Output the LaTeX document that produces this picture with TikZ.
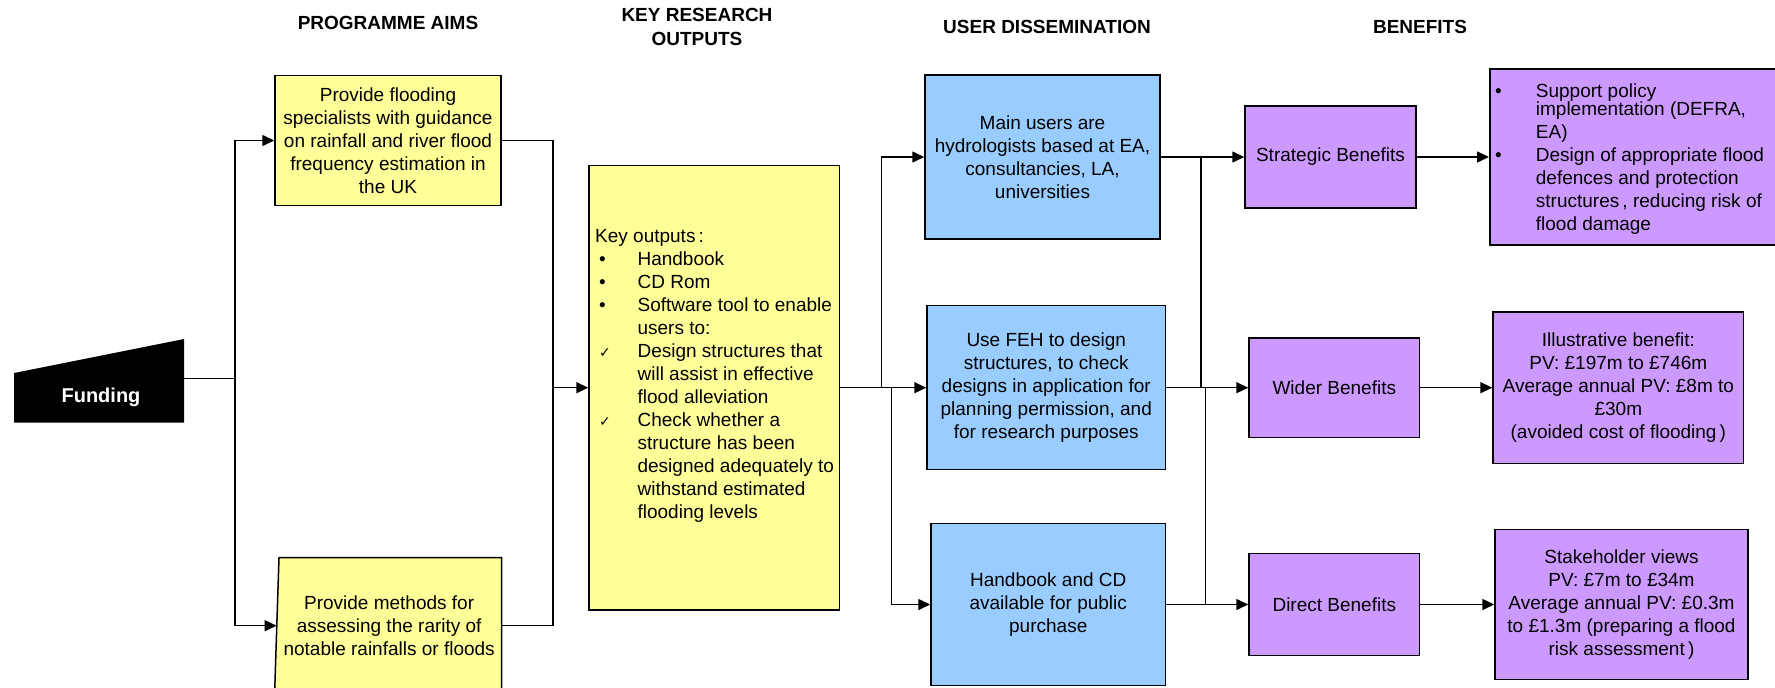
\documentclass[tikz,border=0pt]{standalone}
\usepackage{fontspec}
\setmainfont{Liberation Sans}
\newfontfamily\dejavu{DejaVu Sans}
\usetikzlibrary{arrows.meta}
\definecolor{ylw}{HTML}{FFFF99}
\definecolor{blu}{HTML}{99CCFF}
\definecolor{prp}{HTML}{CC99FF}
\newcommand\kitem[2]{\makebox[42.4pt][l]{\hspace{4pt}#1}#2}
\newcommand\kcont[1]{\hspace{42.4pt}#1}
\newcommand\ckm{{\dejavu\fontsize{14}{14}\selectfont ✓}}
\begin{document}
\begin{tikzpicture}[x=1pt,y=-1pt,
  box/.style={draw=black, line width=1.5pt, inner sep=0pt, align=center, font=\fontsize{19}{23}\selectfont},
  txt/.style={inner sep=0pt, font=\fontsize{19}{23}\selectfont},
  hdr/.style={font=\fontsize{19}{24}\selectfont\bfseries, align=center, inner sep=0pt},
  conn/.style={line width=1.5pt},
  arr/.style={conn, -{Triangle[length=12pt,width=11pt]}},
]
\useasboundingbox (0,0) rectangle (1775,688);

% headers
\node[hdr] (h1) at (388,22.8) {PROGRAMME AIMS};
\node[hdr] (h2) at (697,27) {KEY RESEARCH\\OUTPUTS};
\node[hdr] (h3) at (1047,27) {USER DISSEMINATION};
\node[hdr] (h4) at (1420,27) {BENEFITS};

% funding
\fill[black] (14,373) -- (184,339) -- (184,422.5) -- (14,422.5) -- cycle;
\node[inner sep=0pt, text=white, font=\fontsize{20}{24}\selectfont\bfseries] (fund) at (101,397) {Funding};
\coordinate (fundR) at (184,378.7);
\coordinate (j1) at (235,378.7);

% programme aims
\node[box, fill=ylw, minimum width=226pt, minimum height=130pt] (aim1) at (388,140.5)
  {Provide flooding\\specialists with guidance\\on rainfall and river flood\\frequency estimation in\\the UK};
\path[draw=black, fill=ylw, line width=1.5pt] (279,557.7) -- (501.5,557.7) -- (501.5,700) -- (274.4,700) -- cycle;
\node[txt, align=center, minimum width=224.7pt, minimum height=136pt] (aim2) at (389.15,625.7)
  {Provide methods for\\assessing the rarity of\\notable rainfalls or floods};
\coordinate (j2) at (553,387.7);

% key outputs
\node[box, fill=ylw, minimum width=250.5pt, minimum height=444.6pt] (key) at (714.25,387.7) {};
\node[txt, align=left, anchor=west] (keytxt) at (595,376)
  {Key outputs\,:\\
   \kitem{•}{Handbook}\\
   \kitem{•}{CD Rom}\\
   \kitem{•}{Software tool to enable}\\
   \kcont{users to:}\\
   \kitem{\ckm}{Design structures that}\\
   \kcont{will assist in effective}\\
   \kcont{flood alleviation}\\
   \kitem{\ckm}{Check whether a}\\
   \kcont{structure has been}\\
   \kcont{designed adequately to}\\
   \kcont{withstand estimated}\\
   \kcont{flooding levels}};
\coordinate (j3) at (881.5,387.7);
\coordinate (j4) at (891.5,387.7);

% user dissemination
\node[box, fill=blu, minimum width=235pt, minimum height=164pt] (u1) at (1042.5,157)
  {Main users are\\hydrologists based at EA,\\consultancies, LA,\\universities};
\node[box, fill=blu, minimum width=238.5pt, minimum height=164pt] (u2) at (1046.25,387.7)
  {Use FEH to design\\structures, to check\\designs in application for\\planning permission, and\\for research purposes};
\node[box, fill=blu, minimum width=234.5pt, minimum height=162pt] (u3) at (1048.25,604.5)
  {Handbook and CD\\available for public\\purchase};
\coordinate (j5) at (1201,157);
\coordinate (j6) at (1201,387.7);
\coordinate (j7) at (1205.5,387.7);

% benefits
\node[box, fill=prp, minimum width=171pt, minimum height=102pt] (b1) at (1330.5,157) {Strategic Benefits};
\node[box, fill=prp, minimum width=170.6pt, minimum height=99.6pt] (b2) at (1334.3,387.7) {Wider Benefits};
\node[box, fill=prp, minimum width=170.6pt, minimum height=102.3pt] (b3) at (1334.3,604.5) {Direct Benefits};

\node[box, fill=prp, minimum width=300pt, minimum height=176.4pt, anchor=west] (v1) at (1489,157) {};
\node[txt, align=left, anchor=west] (v1txt) at (1489,159)
  {\makebox[46.7pt][l]{\hspace{6pt}•}Support policy\\[-4.5pt]
   \hspace{46.7pt}implementation (DEFRA,\\
   \hspace{46.7pt}EA)\\
   \makebox[46.7pt][l]{\hspace{6pt}•}Design of appropriate flood\\
   \hspace{46.7pt}defences and protection\\
   \hspace{46.7pt}structures\,, reducing risk of\\
   \hspace{46.7pt}flood damage};
\node[box, fill=prp, minimum width=250.7pt, minimum height=151.4pt] (v2) at (1618.35,387.7)
  {Illustrative benefit:\\PV: £197m to £746m\\Average annual PV: £8m to\\£30m\\(avoided cost of flooding\,)};
\node[box, fill=prp, minimum width=253pt, minimum height=150.4pt] (v3) at (1621.5,604.5)
  {Stakeholder views\\PV: £7m to £34m\\Average annual PV: £0.3m\\to £1.3m (preparing a flood\\risk assessment\,)};

% connectors
\draw[conn] (fundR) -- (j1);
\draw[arr] (j1) |- (aim1.west);
\draw[arr] (j1) |- (aim2.west);
\draw[conn] (aim1.east) -| (j2);
\draw[conn] (aim2.east) -| (j2);
\draw[arr] (j2) -- (key.west);
\draw[arr] (key.east) -- (u2.west);
\draw[arr] (j3) |- (u1.west);
\draw[arr] (j4) |- (u3.west);
\draw[arr] (u1.east) -- (b1.west);
\draw[conn] (j5) -- (j6);
\draw[arr] (u2.east) -- (b2.west);
\draw[conn] (j7) |- (u3.east);
\draw[arr] (u3.east) -- (b3.west);
\draw[arr] (b1.east) -- (v1.west);
\draw[arr] (b2.east) -- (v2.west);
\draw[arr] (b3.east) -- (v3.west);
\end{tikzpicture}
\end{document}
